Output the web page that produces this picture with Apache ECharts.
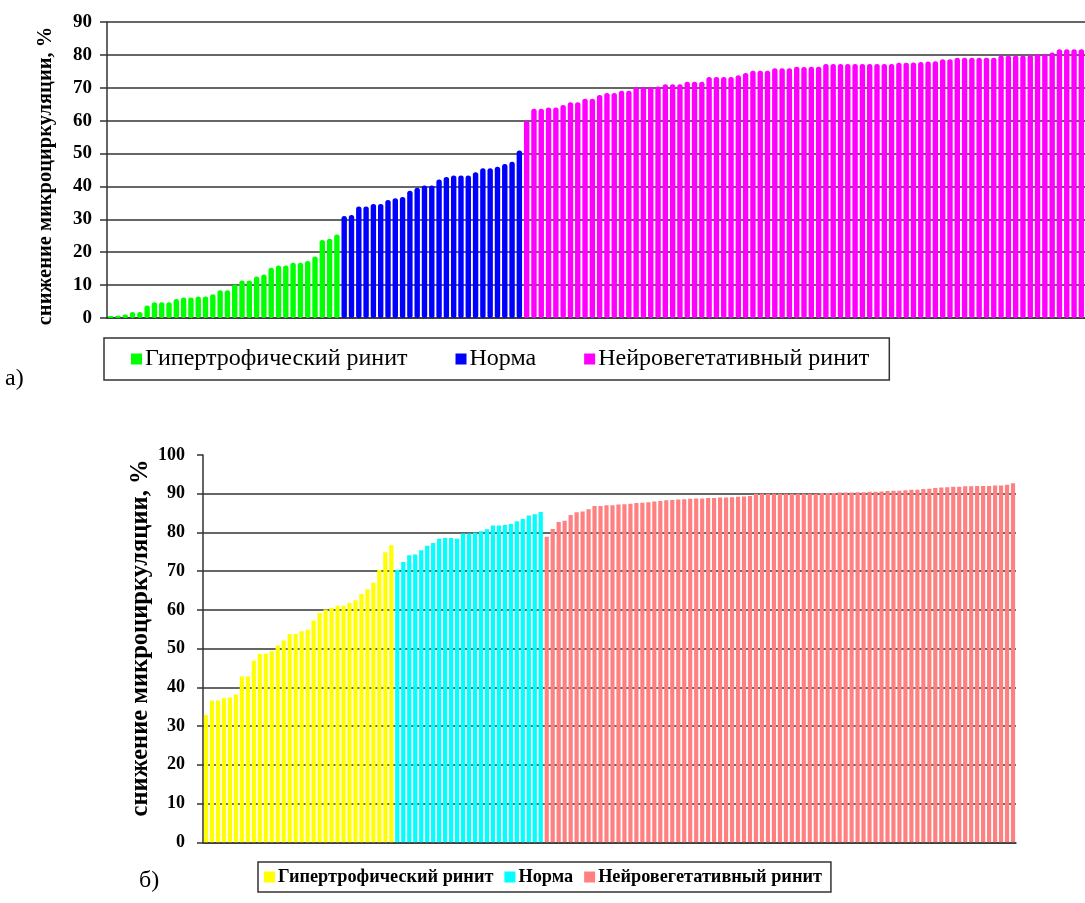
<!DOCTYPE html>
<html>
<head>
<meta charset="utf-8">
<script src="https://cdn.jsdelivr.net/npm/echarts@6/dist/echarts.min.js"></script>
<style>
  html, body { margin: 0; padding: 0; background: #fff; }
  #chartA { position: absolute; left: 0; top: 0; width: 1085px; height: 400px; }
  #chartB { position: absolute; left: 0; top: 400px; width: 1085px; height: 503px; }
</style>
</head>
<body>
<div id="chartA"></div>
<div id="chartB"></div>
<script>
// Series names (legend entries)
const groupNames = ['Гипертрофический ринит', 'Норма', 'Нейровегетативный ринит'];
const axisTitle = 'снижение микроциркуляции, %';

// Panel а) — decrease of microcirculation, %, sorted within each group
const hyperA = [0.6, 0.7, 1.1, 1.8, 1.8, 3.8, 4.8, 4.8, 4.8, 5.8, 6.2, 6.2, 6.5, 6.5, 7.2, 8.4,
  8.4, 10.2, 11.4, 11.4, 12.6, 13.2, 15.3, 16.0, 16.0, 16.8, 16.8, 17.3, 18.7, 23.7, 24.1, 25.4];
const normA = [31.0, 31.3, 33.9, 33.9, 34.7, 34.7, 35.9, 36.4, 36.8, 38.7, 39.6, 40.3, 40.3,
  42.1, 42.9, 43.3, 43.3, 43.3, 44.3, 45.5, 45.5, 46.0, 46.8, 47.5, 50.9];
const neuroA = [60.0, 63.6, 63.6, 64.0, 64.0, 64.8, 65.6, 65.6, 66.7, 66.7, 67.8, 68.4, 68.4,
  69.1, 69.1, 70.2, 70.2, 70.2, 70.4, 71.1, 71.1, 71.1, 71.8, 71.8, 71.8, 73.3, 73.3, 73.3, 73.3,
  73.8, 74.5, 75.2, 75.2, 75.2, 75.9, 75.9, 75.9, 76.4, 76.3, 76.4, 76.4, 77.2, 77.2, 77.2, 77.2,
  77.2, 77.2, 77.2, 77.2, 77.2, 77.2, 77.6, 77.6, 77.7, 77.8, 78.0, 78.1, 78.7, 78.7, 79.1, 79.1,
  79.1, 79.1, 79.1, 79.1, 79.8, 79.8, 79.8, 79.8, 80.0, 80.3, 80.3, 80.7, 81.7, 81.7, 81.7, 81.7];

// Panel б)
const hyperB = [32.9, 36.6, 36.6, 37.2, 37.4, 38.1, 42.8, 42.8, 46.9, 48.7, 48.7, 49.3, 50.8,
  52.1, 53.8, 53.8, 54.5, 54.9, 57.3, 59.2, 60.1, 60.5, 61.1, 61.1, 61.8, 62.5, 64.1, 65.3, 67.0,
  70.4, 74.9, 76.7];
const normB = [70.4, 72.4, 74.1, 74.3, 75.4, 76.6, 77.3, 78.4, 78.6, 78.6, 78.4, 79.7, 79.7,
  79.9, 80.3, 80.8, 81.8, 81.8, 81.9, 82.2, 82.9, 83.5, 84.4, 84.7, 85.3];
const neuroB = [78.9, 80.9, 82.7, 83.0, 84.5, 85.2, 85.4, 86.0, 86.8, 86.8, 87.0, 87.0, 87.2,
  87.3, 87.4, 87.6, 87.7, 87.8, 88.0, 88.1, 88.3, 88.4, 88.5, 88.6, 88.7, 88.8, 88.8, 88.9, 88.9,
  89.0, 89.0, 89.1, 89.2, 89.3, 89.4, 90.0, 90.0, 90.0, 90.0, 90.0, 90.0, 90.0, 90.0, 90.0, 90.0,
  90.0, 90.2, 90.2, 90.2, 90.3, 90.3, 90.3, 90.4, 90.4, 90.5, 90.5, 90.6, 90.7, 90.8, 90.8, 90.9,
  91.0, 91.0, 91.2, 91.3, 91.5, 91.6, 91.7, 91.8, 91.8, 91.9, 91.9, 92.0, 92.0, 92.0, 92.1, 92.1,
  92.3, 92.7];

const colorsA = ['#00ff00', '#0000ff', '#ff00ff'];
const colorsB = ['#ffff00', '#00ffff', '#ff8080'];

const serif = '"Liberation Serif", "Times New Roman", serif';

// Lay the groups one after another along a shared category axis
function buildSeries(groups, colors, barStyle) {
  const total = groups.reduce((s, g) => s + g.length, 0);
  let offset = 0;
  return groups.map((g, gi) => {
    const data = new Array(total).fill('-');
    g.forEach((v, i) => { data[offset + i] = v; });
    offset += g.length;
    return Object.assign({
      name: groupNames[gi],
      type: 'bar',
      data: data,
      barGap: '-100%',
      itemStyle: Object.assign({ color: colors[gi] }, barStyle.itemStyle || {}),
      animation: false
    }, barStyle.extra || {});
  });
}

function categories(groups) {
  const total = groups.reduce((s, g) => s + g.length, 0);
  return Array.from({ length: total }, (_, i) => String(i + 1));
}

function yAxisCfg(max, fontSize, margin, tickLen, splitColors) {
  return {
    type: 'value', min: 0, max: max, interval: 10,
    axisLine: { show: true, lineStyle: { color: '#333', width: 1.5 } },
    axisTick: { show: true, length: tickLen, lineStyle: { color: '#333', width: 1.5 } },
    axisLabel: { fontFamily: serif, fontWeight: 'bold', fontSize: fontSize, color: '#000', margin: margin },
    splitLine: { show: true, lineStyle: { color: splitColors, width: 1.5 } }
  };
}

// ---------- а) ----------
const groupsA = [hyperA, normA, neuroA];
const chartA = echarts.init(document.getElementById('chartA'), null, { renderer: 'canvas' });
chartA.setOption({
  animation: false,
  grid: { left: 107, top: 22, width: 978, height: 296, containLabel: false },
  xAxis: {
    type: 'category', data: categories(groupsA), boundaryGap: true,
    axisLine: { show: true, lineStyle: { color: '#333', width: 1.5 } },
    axisTick: { show: false }, axisLabel: { show: false }, splitLine: { show: false }
  },
  yAxis: yAxisCfg(90, 19, 15, 7, '#333'),
  legend: {
    left: 104, top: 338,
    padding: [9, 20, 9, 27],
    itemGap: 48, itemWidth: 11, itemHeight: 11, icon: 'rect',
    borderColor: '#333', borderWidth: 1.5,
    textStyle: { fontFamily: serif, fontSize: 24, color: '#000', padding: [0, 0, 0, -2] },
    data: groupNames
  },
  graphic: [
    { type: 'text', x: 46, y: 176, rotation: Math.PI / 2,
      style: { text: axisTitle, font: 'bold 20.5px ' + serif, fill: '#000', align: 'center', verticalAlign: 'middle' } },
    { type: 'text', left: 5, top: 367,
      style: { text: 'а)', font: '24px ' + serif, fill: '#000' } }
  ],
  series: buildSeries(groupsA, colorsA, {
    extra: { barCategoryGap: '26%' },
    itemStyle: { borderRadius: 2.5 }
  })
});

// ---------- б) ----------
const groupsB = [hyperB, normB, neuroB];
const splitB = ['#333', '#333', '#333', '#333', '#333', '#333', '#333', '#333', '#333', '#333', 'rgba(0,0,0,0)'];
const chartB = echarts.init(document.getElementById('chartB'), null, { renderer: 'canvas' });
chartB.setOption({
  animation: false,
  grid: { left: 203, top: 55, width: 813, height: 387.3, containLabel: false },
  xAxis: {
    type: 'category', data: categories(groupsB), boundaryGap: true,
    axisLine: { show: true, lineStyle: { color: '#333', width: 1.5 } },
    axisTick: { show: false }, axisLabel: { show: false }, splitLine: { show: false }
  },
  yAxis: yAxisCfg(100, 18, 18, 6, splitB),
  legend: {
    left: 258, top: 462,
    padding: [6, 9, 6, 6],
    itemGap: 11, itemWidth: 11, itemHeight: 11, icon: 'rect',
    borderColor: '#333', borderWidth: 1.5,
    textStyle: { fontFamily: serif, fontSize: 18.3, fontWeight: 'bold', color: '#000', padding: [0, 0, 0, -2] },
    data: groupNames
  },
  graphic: [
    { type: 'text', x: 141, y: 238, rotation: Math.PI / 2,
      style: { text: axisTitle, font: 'bold 24.5px ' + serif, fill: '#000', align: 'center', verticalAlign: 'middle' } },
    { type: 'text', left: 139, top: 469,
      style: { text: 'б)', font: '24px ' + serif, fill: '#000' } }
  ],
  series: buildSeries(groupsB, colorsB, {
    extra: { barCategoryGap: '30%' },
    itemStyle: {}
  })
});
</script>
</body>
</html>
